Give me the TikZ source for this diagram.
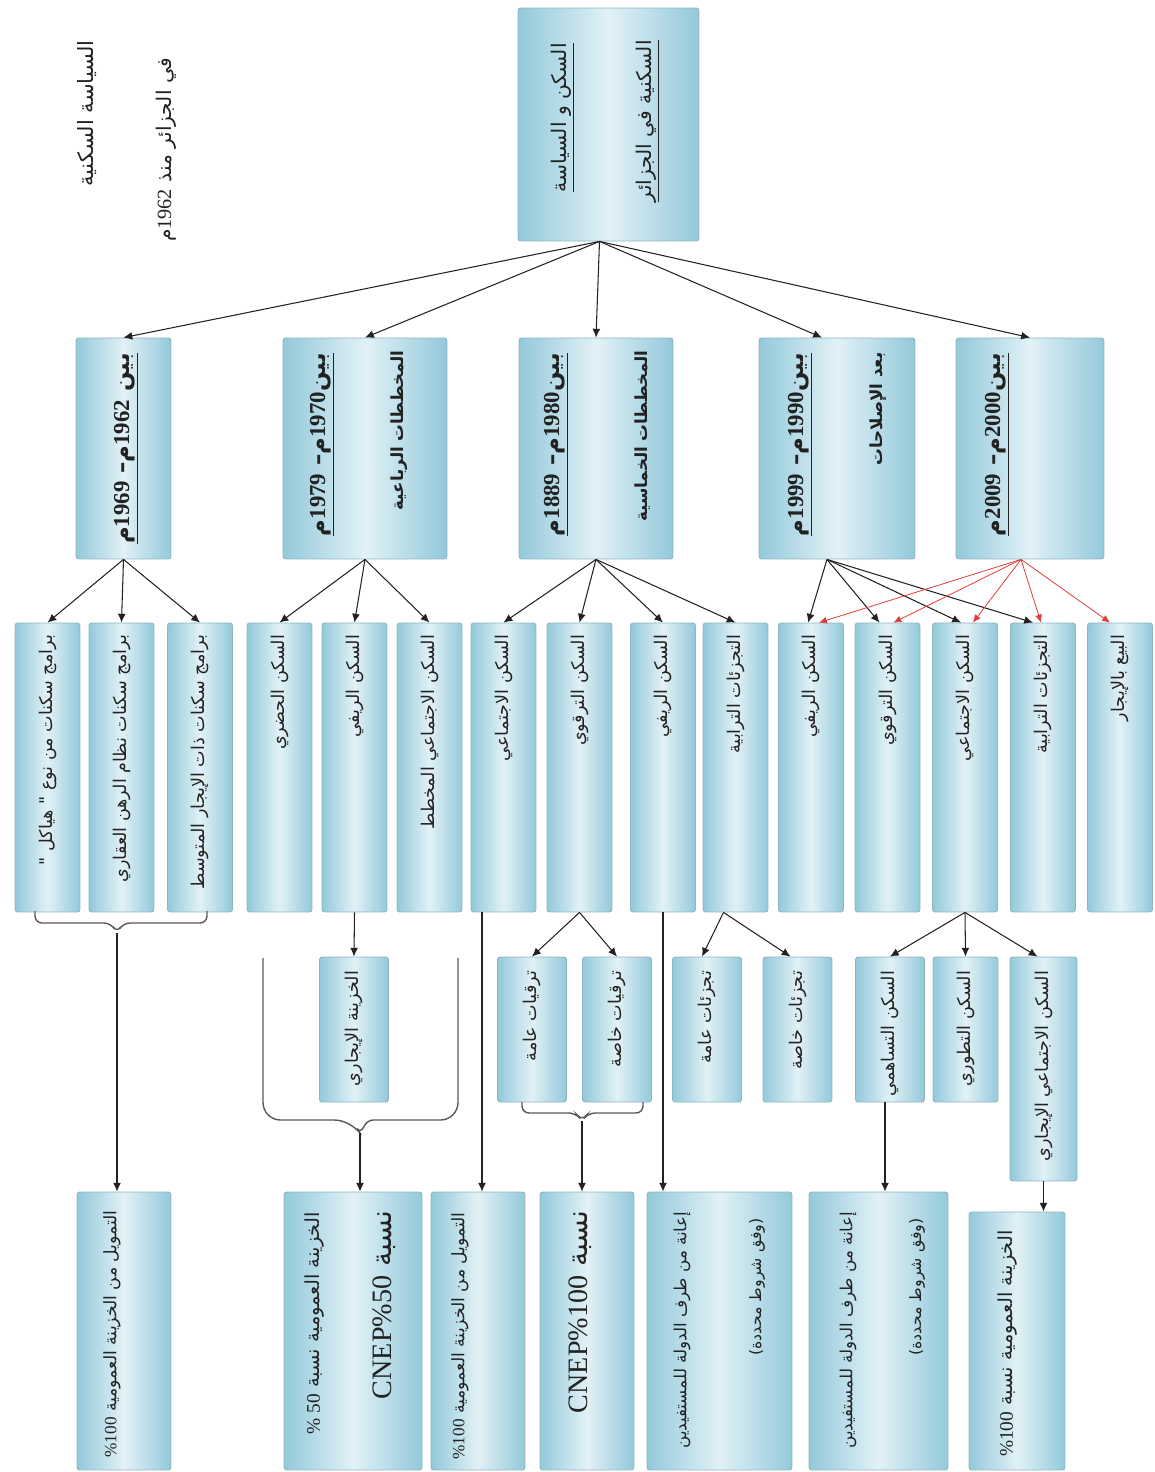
\documentclass[tikz,border=0pt]{standalone}
\usepackage{fontspec}
\setmainfont{Liberation Serif}
\newfontfamily\arabicfont[Script=Arabic]{DejaVu Sans}
\TeXXeTstate=1
\usetikzlibrary{calc,arrows.meta}

\definecolor{boxdark}{HTML}{93C9DA}
\definecolor{boxlight}{HTML}{E2F1F6}
\definecolor{boxline}{HTML}{8DB6C5}
\definecolor{ink}{HTML}{222222}
\definecolor{redline}{HTML}{E23B3B}

\newcommand{\artxt}[1]{{\arabicfont\beginR #1\endR}}
\newcommand{\latn}[1]{\beginL{\rmfamily #1}\endL}
\newcommand{\undertxt}[1]{$\underline{\hbox{#1}}$}

\tikzset{
  box/.style={draw=boxline, line width=0.5pt, rounded corners=1.5pt,
    left color=boxdark, right color=boxdark, middle color=boxlight, inner sep=0pt},
  colbox/.style={box, minimum width=1.3cm, minimum height=5.78cm},
  subbox/.style={box, minimum width=1.38cm, minimum height=2.9cm},
  lowbox/.style={box, minimum height=5.56cm},
  lbl/.style={rotate=90, anchor=east, inner sep=0pt, text=ink, font=\fontsize{10}{12}\selectfont},
  arr/.style={draw=ink, line width=0.6pt, -{Latex[length=5pt,width=4.5pt]}},
  redarr/.style={draw=redline, line width=0.45pt, -{Latex[length=4.5pt,width=4pt]}},
  brc/.style={draw=ink!75, line width=0.8pt}
}

\begin{document}
\begin{tikzpicture}[x=0.02cm, y=-0.02cm]
\useasboundingbox (0,0) rectangle (1155,1472);

% title, top left
\node[lbl, font=\fontsize{12}{14}\selectfont] (head-a) at (87,40) {\artxt{السياسة السكنية}};
\node[lbl, font=\fontsize{11.5}{14}\selectfont] (head-b) at (166,57) {\artxt{في الجزائر منذ \latn{1962}م}};

% root
\node[box, minimum width=3.62cm, minimum height=4.66cm] (root) at (608.5,124.5) {};
\node[lbl, font=\fontsize{11.5}{14}\selectfont] (root-a) at (563,43) {\undertxt{\artxt{السكن و السياسة}}};
\node[lbl, font=\fontsize{11.5}{14}\selectfont] (root-b) at (648,40) {\undertxt{\artxt{السكنية في الجزائر}}};

% periods
\node[box, minimum width=1.9cm, minimum height=4.42cm] (p60) at (123.5,448.5) {};
\node[box, minimum width=3.28cm, minimum height=4.42cm] (p70) at (365,448.5) {};
\node[box, minimum width=3.08cm, minimum height=4.42cm] (p80) at (596,448.5) {};
\node[box, minimum width=3.12cm, minimum height=4.42cm] (p90) at (837,448.5) {};
\node[box, minimum width=2.96cm, minimum height=4.42cm] (p00) at (1030,448.5) {};

\node[lbl, font=\fontsize{13}{15}\selectfont\bfseries] (p60-a) at (126,353) {\undertxt{\artxt{بين \latn{1962}م– \latn{1969}م}}};
\node[lbl, font=\fontsize{13}{15}\selectfont\bfseries] (p70-a) at (322,353) {\undertxt{\artxt{بين\latn{1970}م– \latn{1979}م}}};
\node[lbl, font=\fontsize{9.5}{12}\selectfont\bfseries] (p70-b) at (399,350) {\artxt{المخططات الرباعية}};
\node[lbl, font=\fontsize{13}{15}\selectfont\bfseries] (p80-a) at (556,353) {\undertxt{\artxt{بين\latn{1980}م– \latn{1889}م}}};
\node[lbl, font=\fontsize{9.5}{12}\selectfont\bfseries] (p80-b) at (643,350) {\artxt{المخططات الخماسية}};
\node[lbl, font=\fontsize{13}{15}\selectfont\bfseries] (p90-a) at (800,353) {\undertxt{\artxt{بين\latn{1990}م– \latn{1999}م}}};
\node[lbl, font=\fontsize{9.5}{12}\selectfont\bfseries] (p90-b) at (878,352) {\artxt{بعد الإصلاحات}};
\node[lbl, font=\fontsize{13}{15}\selectfont\bfseries] (p00-a) at (997,353) {\undertxt{\artxt{بين\latn{2000}م– \latn{2009}م}}};

\draw[arr] ($(root.south)+(-9,0)$) -- (p60.north);
\draw[arr] ($(root.south)+(-9,0)$) -- (p70.north);
\draw[arr] ($(root.south)+(-9,0)$) -- (p80.north);
\draw[arr] ($(root.south)+(-9,0)$) -- ($(p90.north)+(-15,0)$);
\draw[arr] ($(root.south)+(-9,0)$) -- (p00.north);

% housing types
\node[colbox] (c1) at (47.5,767.5) {};
\node[colbox] (c2) at (121.5,767.5) {};
\node[colbox] (c3) at (200,767.5) {};
\node[colbox] (c4) at (279.5,767.5) {};
\node[colbox] (c5) at (354.5,767.5) {};
\node[colbox] (c6) at (429.5,767.5) {};
\node[colbox] (c7) at (503.5,767.5) {};
\node[colbox] (c8) at (579.5,767.5) {};
\node[colbox] (c9) at (663,767.5) {};
\node[colbox] (c10) at (735.5,767.5) {};
\node[colbox] (c11) at (811,767.5) {};
\node[colbox] (c12) at (887.5,767.5) {};
\node[colbox] (c13) at (965,767.5) {};
\node[colbox] (c14) at (1043,767.5) {};
\node[colbox] (c15) at (1120,767.5) {};

\node[lbl] (c1-t) at ($(c1.north)+(0,12)$) {\artxt{برامج سكنات من نوع " هياكل "}};
\node[lbl] (c2-t) at ($(c2.north)+(0,12)$) {\artxt{برامج سكنات نظام الرهن العقاري}};
\node[lbl] (c3-t) at ($(c3.north)+(0,12)$) {\artxt{برامج سكنات ذات الإيجار المتوسط}};
\node[lbl] (c4-t) at ($(c4.north)+(0,12)$) {\artxt{السكن الحضري}};
\node[lbl] (c5-t) at ($(c5.north)+(0,12)$) {\artxt{السكن الريفي}};
\node[lbl] (c6-t) at ($(c6.north)+(0,12)$) {\artxt{السكن الاجتماعي المخطط}};
\node[lbl] (c7-t) at ($(c7.north)+(0,12)$) {\artxt{السكن الاجتماعي}};
\node[lbl] (c8-t) at ($(c8.north)+(0,12)$) {\artxt{السكن الترقوي}};
\node[lbl] (c9-t) at ($(c9.north)+(0,12)$) {\artxt{السكن الريفي}};
\node[lbl] (c10-t) at ($(c10.north)+(0,12)$) {\artxt{التجزئات الترابية}};
\node[lbl] (c11-t) at ($(c11.north)+(0,12)$) {\artxt{السكن الريفي}};
\node[lbl] (c12-t) at ($(c12.north)+(0,12)$) {\artxt{السكن الترقوي}};
\node[lbl] (c13-t) at ($(c13.north)+(0,12)$) {\artxt{السكن الاجتماعي}};
\node[lbl] (c14-t) at ($(c14.north)+(0,12)$) {\artxt{التجزئات الترابية}};
\node[lbl] (c15-t) at ($(c15.north)+(0,12)$) {\artxt{البيع بالإيجار}};

\draw[arr] (p60.south) -- (c1.north);
\draw[arr] (p60.south) -- (c2.north);
\draw[arr] (p60.south) -- (c3.north);
\draw[arr] (p70.south) -- (c4.north);
\draw[arr] (p70.south) -- (c5.north);
\draw[arr] (p70.south) -- (c6.north);
\draw[arr] (p80.south) -- (c7.north);
\draw[arr] (p80.south) -- (c8.north);
\draw[arr] (p80.south) -- (c9.north);
\draw[arr] (p80.south) -- (c10.north);
\draw[arr] ($(p90.south)+(-10,0)$) -- ($(c11.north)+(-3,0)$);
\draw[arr] ($(p90.south)+(-10,0)$) -- ($(c12.north)+(-8,0)$);
\draw[arr] ($(p90.south)+(-10,0)$) -- ($(c13.north)+(-4,0)$);
\draw[arr] ($(p90.south)+(-10,0)$) -- ($(c14.north)+(-10,0)$);
\draw[redarr] ($(p00.south)+(-9,0)$) -- ($(c11.north)+(8,0)$);
\draw[redarr] ($(p00.south)+(-9,0)$) -- ($(c12.north)+(6,0)$);
\draw[redarr] ($(p00.south)+(-9,0)$) -- ($(c13.north)+(8,0)$);
\draw[redarr] ($(p00.south)+(-9,0)$) -- ($(c14.north)+(-2,0)$);
\draw[redarr] ($(p00.south)+(-9,0)$) -- ($(c15.north)+(-10,0)$);

% sub types
\node[subbox] (tr5) at (354,1029.5) {};
\node[subbox] (tr8a) at (532,1029.5) {};
\node[subbox] (tr8b) at (617,1029.5) {};
\node[subbox] (tj10a) at (707,1029.5) {};
\node[subbox] (tj10b) at (797.5,1029.5) {};
\node[subbox] (sk13a) at (890,1029.5) {};
\node[subbox, minimum width=1.3cm] (sk13b) at (965.5,1029.5) {};
\node[box, minimum width=1.34cm, minimum height=4.48cm] (sk13c) at (1043.5,1069) {};

\node[lbl] (tr5-t) at ($(tr5.north)+(0,14)$) {\artxt{الخزينة الإيجاري}};
\node[lbl] (tr8a-t) at ($(tr8a.north)+(0,14)$) {\artxt{ترقيات عامة}};
\node[lbl] (tr8b-t) at ($(tr8b.north)+(0,14)$) {\artxt{ترقيات خاصة}};
\node[lbl] (tj10a-t) at ($(tj10a.north)+(0,14)$) {\artxt{تجزئات عامة}};
\node[lbl] (tj10b-t) at ($(tj10b.north)+(0,14)$) {\artxt{تجزئات خاصة}};
\node[lbl] (sk13a-t) at ($(sk13a.north)+(0,14)$) {\artxt{السكن التساهمي}};
\node[lbl] (sk13b-t) at ($(sk13b.north)+(0,14)$) {\artxt{السكن التطوري}};
\node[lbl] (sk13c-t) at ($(sk13c.north)+(0,14)$) {\artxt{السكن الاجتماعي الإيجاري}};

\draw[arr] (c5.south) -- (tr5.north);
\draw[arr] (c8.south) -- (tr8a.north);
\draw[arr] (c8.south) -- (tr8b.north);
\draw[arr] ($(c10.south)+(-12,0)$) -- ($(tj10a.north)+(-5,0)$);
\draw[arr] ($(c10.south)+(-12,0)$) -- ($(tj10b.north)+(-7,0)$);
\draw[arr] (c13.south) -- (sk13a.north);
\draw[arr] (c13.south) -- (sk13b.north);
\draw[arr] (c13.south) -- ($(sk13c.north)+(-6,0)$);

% financing
\node[lowbox, minimum width=1.88cm] (f1) at (124,1331) {};
\node[lowbox, minimum width=2.76cm] (f2) at (353,1331) {};
\node[lowbox, minimum width=1.88cm] (f3) at (478,1331) {};
\node[lowbox, minimum width=1.88cm] (f4) at (587,1331) {};
\node[lowbox, minimum width=2.9cm] (f5) at (719.5,1331) {};
\node[lowbox, minimum width=2.78cm] (f6) at (878.5,1331) {};
\node[box, minimum width=1.92cm, minimum height=5.16cm] (f7) at (1017,1341) {};

\node[lbl, font=\fontsize{9.8}{12}\selectfont] (f1-t) at (112,1210) {\artxt{التمويل من الخزينة العمومية \latn{\%100}}};
\node[lbl, font=\fontsize{11}{13}\selectfont] (f2-a) at (315,1212) {\artxt{الخزينة العمومية نسبة \latn{\% 50}}};
\node[lbl, font=\fontsize{16}{18}\selectfont] (f2-b) at (384,1210) {\artxt{نسبة \latn{CNEP\%50}}};
\node[lbl, font=\fontsize{9.8}{12}\selectfont] (f3-t) at (460,1212) {\artxt{التمويل من الخزينة العمومية \latn{\%100}}};
\node[lbl, font=\fontsize{16}{18}\selectfont] (f4-t) at (580,1210) {\artxt{نسبة \latn{CNEP\%100}}};
\node[lbl, font=\fontsize{9.5}{12}\selectfont] (f5-a) at (682,1212) {\artxt{إعانة من طرف الدولة للمستفيدين}};
\node[lbl, font=\fontsize{9}{11}\selectfont] (f5-b) at (757,1218) {\artxt{(وفق شروط محددة)}};
\node[lbl, font=\fontsize{9.5}{12}\selectfont] (f6-a) at (848,1212) {\artxt{إعانة من طرف الدولة للمستفيدين}};
\node[lbl, font=\fontsize{9}{11}\selectfont] (f6-b) at (917,1218) {\artxt{(وفق شروط محددة)}};
\node[lbl, font=\fontsize{11}{13}\selectfont] (f7-t) at (1008,1230) {\artxt{الخزينة العمومية نسبة \latn{\%100}}};

% braces and long lines
\coordinate (br1) at (117,933);
\draw[brc, rounded corners=4pt] (35,911) -- (35,923) -- (111,923) -- (br1) -- (123,923) -- (207,923) -- (207,911);
\draw[arr] (br1) -- (br1 |- f1.north);

\coordinate (br2) at (360,1133);
\draw[brc] (263,958) [rounded corners=10pt] -- (263,1120) -- (352,1120) [rounded corners=3pt] -- (br2) -- (368,1120) [rounded corners=10pt] -- (458,1120) -- (458,958);
\draw[arr] (br2) -- (br2 |- f2.north);

\coordinate (br3) at (582,1121);
\draw[brc, rounded corners=4pt] (522,1102) -- (522,1113) -- (576,1113) -- (br3) -- (588,1113) -- (643,1113) -- (643,1102);
\draw[arr] (br3) -- (br3 |- f4.north);

\coordinate (c7-foot) at (482,912);
\draw[arr] (c7-foot) -- (c7-foot |- f3.north);
\draw[arr] (c9.south) -- (c9.south |- f5.north);
\draw[arr] ($(sk13a.south)+(-5,0)$) -- ($(sk13a.south |- f6.north)+(-5,0)$);
\draw[arr] (sk13c.south) -- (sk13c.south |- f7.north);

\end{tikzpicture}
\end{document}
